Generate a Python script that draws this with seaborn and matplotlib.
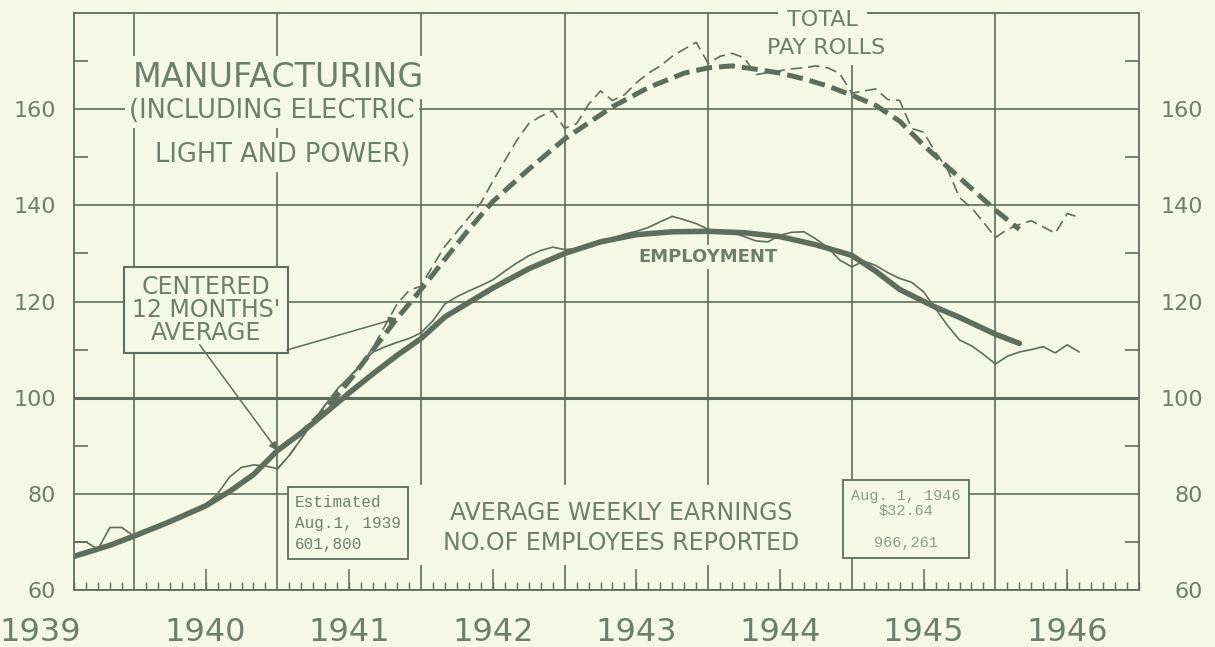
import numpy as np
import pandas as pd
import matplotlib
matplotlib.use("Agg")
import matplotlib.pyplot as plt
import matplotlib.ticker as mticker
import matplotlib.transforms as mtransforms
from matplotlib.patches import Rectangle
import seaborn as sns

# Eixo x em meses contados a partir de agosto de 1939 (mes 0 = ago/1939)
START_YEAR = 1939 + 7 / 12
END_YEAR = 1947

years = [1939, 1940, 1941, 1942, 1943, 1944, 1945, 1946]
y_ticks = [60, 80, 100, 120, 140, 160]
y_minor = [70, 90, 110, 130, 150, 170]

# Emprego - media centrada de 12 meses (linha grossa)
emp_avg_months = [0, 3, 5, 8, 11, 13, 15, 17, 19, 21, 23, 25, 27, 29, 31, 33, 35,
                  38, 41, 44, 47, 50, 53, 56, 59, 62, 65, 67, 69, 72, 74, 77, 79]
emp_avg_values = [67, 69.3, 71.2, 74.2, 77.5, 80.5, 84, 89, 92.7, 96.8, 101, 105,
                  108.8, 112.3, 116.8, 119.8, 122.8, 126.8, 130, 132.4, 133.9, 134.5,
                  134.6, 134.3, 133.5, 131.8, 129.6, 126.3, 122.5, 118.8, 116.7, 113.2, 111.3]

# Emprego - valores mensais (linha fina), ago/1939 a ago/1946
emp_months = list(range(0, 85))
emp_values = [70, 70, 68.5, 73, 73, 71.2, 72, 73, 74.3, 75.5, 76.5, 77.8,
              80, 83.5, 85.5, 86, 85.8, 85.2, 88, 91.5, 95, 98.5, 101.8, 104.3,
              107, 109.5, 110.6, 111.5, 112.3, 113.5, 116, 119.5, 121, 122.2, 123.3, 124.5,
              126.3, 128, 129.5, 130.6, 131.3, 130.8, 131, 131.8, 132.5, 133.2, 134, 134.6,
              135.4, 136.6, 137.7, 137, 136.2, 135, 134.6, 134.4, 133.5, 132.6, 132.4, 133.8,
              134.4, 134.5, 133, 131.2, 128.6, 127.2, 128.4, 127.5, 126, 124.8, 124, 122,
              118.5, 115, 112, 110.8, 109, 107, 108.6, 109.5, 110, 110.6, 109.3, 111, 109.5]

# Folha de pagamento total - media centrada de 12 meses (tracejado grosso)
pay_avg_months = [17, 19, 21, 23, 25, 27, 29, 31, 33, 35, 38, 41, 45, 48, 51, 53, 55,
                  57, 59, 61, 63, 65, 67, 69, 71, 73, 75, 77, 79]
pay_avg_values = [89, 92.7, 97.5, 103.5, 110, 116.5, 122.5, 128.8, 135, 140.8, 147.5,
                  153.8, 160.5, 164.5, 167.5, 168.6, 169, 168.3, 167.5, 166.3, 164.8,
                  162.9, 160.8, 157.5, 152.5, 148, 143.5, 139, 135]

# Folha de pagamento total - valores mensais (tracejado fino)
pay_months = list(range(17, 85))
pay_values = [85.2, 88, 91.5, 95, 98.5, 101.5, 104, 106.8, 110.5, 115, 119.5, 122.3, 123.2,
              127.5, 131.5, 134.5, 137.5, 140.5, 145, 149.3, 153.5, 157, 158.5, 159.7, 156, 157,
              161, 163.8, 161.8, 163, 165.5, 167.5, 169, 171, 172.5, 173.9, 169.5, 171, 171.6,
              170.7, 167.2, 167.6, 168, 168.4, 168.6, 169, 168.6, 167.4, 163.3, 163.8, 164.2,
              162, 161.8, 156, 155.2, 151, 147.5, 141.6, 139.5, 136.5, 133.3, 135, 136,
              136.8, 135.5, 134.2, 138.3, 137.5]

BG = "#F6F8E6"
LINE = "#5E6D5D"
TEXT = "#6D7E6B"
FAINT = "#8C9B89"


def month_to_year(months):
    return START_YEAR + np.asarray(months, dtype=float) / 12


sns.set_theme(style="white")
plt.rcParams["font.family"] = ["DejaVu Sans"]

fig = plt.figure(figsize=(12.15, 6.47), dpi=100, facecolor=BG)
ax = fig.add_axes([74 / 1215, 1 - 590 / 647, (1139 - 74) / 1215, (590 - 13) / 647])
ax.set_facecolor(BG)

df_pay = pd.DataFrame({"x": month_to_year(pay_months), "y": pay_values})
df_pay_avg = pd.DataFrame({"x": month_to_year(pay_avg_months), "y": pay_avg_values})
df_emp = pd.DataFrame({"x": month_to_year(emp_months), "y": emp_values})
df_emp_avg = pd.DataFrame({"x": month_to_year(emp_avg_months), "y": emp_avg_values})

sns.lineplot(data=df_pay, x="x", y="y", ax=ax, color=LINE, lw=1.2,
             linestyle=(0, (7, 3.5)), errorbar=None, zorder=3)
sns.lineplot(data=df_pay_avg, x="x", y="y", ax=ax, color=LINE, lw=3.6,
             linestyle=(0, (3.2, 1.4)), errorbar=None, zorder=4)
sns.lineplot(data=df_emp, x="x", y="y", ax=ax, color=LINE, lw=1.2,
             errorbar=None, zorder=5)
sns.lineplot(data=df_emp_avg, x="x", y="y", ax=ax, color=LINE, lw=4.0,
             errorbar=None, zorder=6, solid_capstyle="round")

ax.set_xlim(START_YEAR, END_YEAR)
ax.set_ylim(60, 180)
ax.set_xlabel("")
ax.set_ylabel("")

# grade: limites de ano na vertical, de 20 em 20 na horizontal
ax.xaxis.set_major_locator(mticker.FixedLocator(years[1:]))
ax.xaxis.set_minor_locator(mticker.FixedLocator(month_to_year(range(0, 90))))
ax.yaxis.set_major_locator(mticker.FixedLocator(y_ticks))
ax.yaxis.set_minor_locator(mticker.FixedLocator(y_minor))
ax.grid(True, which="major", color=LINE, lw=1.2)
ax.yaxis.get_gridlines()[y_ticks.index(100)].set_linewidth(2.2)

ax.tick_params(axis="x", which="major", length=0, labelbottom=False)
ax.tick_params(axis="x", which="minor", direction="in", length=6, width=1.0,
               color=LINE, bottom=True, top=False)
ax.tick_params(axis="y", which="major", length=0, labelsize=16, labelcolor=TEXT,
               pad=13, left=True, right=False)
ax.tick_params(axis="y", which="minor", direction="in", length=10, width=1.2,
               color=LINE, left=True, right=True)
for s in ax.spines.values():
    s.set_color(LINE)
    s.set_linewidth(1.3)

# tracos maiores no meio de cada ano
sec_x = ax.secondary_xaxis("bottom")
sec_x.set_xticks([y + 0.5 for y in years])
sec_x.tick_params(direction="in", length=15, width=1.1, color=LINE, labelbottom=False)
sec_x.spines["bottom"].set_visible(False)

# rotulos do lado direito
sec_y = ax.secondary_yaxis("right")
sec_y.set_yticks(y_ticks)
sec_y.tick_params(length=0, pad=46, labelsize=16, labelcolor=TEXT)
for lbl in sec_y.get_yticklabels():
    lbl.set_ha("right")
sec_y.spines["right"].set_visible(False)

# anos abaixo do eixo
trans = mtransforms.blended_transform_factory(ax.transData, ax.transAxes)
for yr in years[1:]:
    ax.text(yr + 0.5, -0.073, str(yr), transform=trans, ha="center", va="center",
            fontsize=23, color=TEXT, clip_on=False)
ax.text(-0.032, -0.073, str(years[0]), transform=ax.transAxes, ha="center",
        va="center", fontsize=23, color=TEXT, clip_on=False)

# titulos e rotulos
box_plain = dict(boxstyle="square,pad=0.15", fc=BG, ec="none")
ax.text(0.192, 0.889, "MANUFACTURING", transform=ax.transAxes, ha="center",
        va="center", fontsize=24, color=TEXT, bbox=box_plain, zorder=8)
ax.text(0.186, 0.830, "(INCLUDING ELECTRIC", transform=ax.transAxes, ha="center",
        va="center", fontsize=18.5, color=TEXT, bbox=box_plain, zorder=8)
ax.text(0.196, 0.754, "LIGHT AND POWER)", transform=ax.transAxes, ha="center",
        va="center", fontsize=18.5, color=TEXT, bbox=box_plain, zorder=8)
ax.text(0.703, 0.988, "TOTAL", transform=ax.transAxes, ha="center", va="center",
        fontsize=16, color=TEXT, clip_on=False,
        bbox=dict(boxstyle="square,pad=0.4", fc=BG, ec="none"), zorder=9)
ax.text(0.706, 0.939, "PAY ROLLS", transform=ax.transAxes, ha="center", va="center",
        fontsize=16, color=TEXT, bbox=dict(boxstyle="square,pad=0.3", fc=BG, ec="none"),
        zorder=9)
ax.text(0.595, 0.577, "EMPLOYMENT", transform=ax.transAxes, ha="center", va="center",
        fontsize=13, fontweight="bold", color=TEXT, bbox=box_plain, zorder=8)

# caixa da media centrada e setas
ax.text(0.124, 0.485, "CENTERED\n12 MONTHS'\nAVERAGE", transform=ax.transAxes,
        ha="center", va="center", multialignment="center", fontsize=17, color=TEXT,
        linespacing=0.95, zorder=9,
        bbox=dict(boxstyle="square,pad=0.35", fc=BG, ec=LINE, lw=1.5))
arrow = dict(arrowstyle="-|>", color=LINE, lw=1.1, mutation_scale=12,
             shrinkA=0, shrinkB=0)
i_emp = emp_avg_months.index(17)
ax.annotate("", xy=(month_to_year(emp_avg_months[i_emp]), emp_avg_values[i_emp]),
            xytext=(0.118, 0.425), textcoords="axes fraction", arrowprops=arrow, zorder=9)
i_pay = pay_avg_months.index(27)
ax.annotate("", xy=(month_to_year(pay_avg_months[i_pay]), pay_avg_values[i_pay]),
            xytext=(0.200, 0.416), textcoords="axes fraction", arrowprops=arrow, zorder=9)

# bloco inferior de texto
ax.add_patch(Rectangle((0.313, 0.043), 0.41, 0.139, transform=ax.transAxes,
                       fc=BG, ec="none", zorder=2.6))
ax.text(0.514, 0.107, "AVERAGE WEEKLY EARNINGS\nNO.OF EMPLOYEES REPORTED",
        transform=ax.transAxes, ha="center", va="center", multialignment="center",
        fontsize=17, color=TEXT, linespacing=1.3, zorder=8)
ax.text(0.2075, 0.116, "Estimated\nAug.1, 1939\n601,800", transform=ax.transAxes,
        ha="left", va="center", fontsize=11.5, family="Liberation Mono", color=TEXT,
        linespacing=1.5, zorder=9,
        bbox=dict(boxstyle="square,pad=0.45", fc=BG, ec=LINE, lw=1.3))
ax.text(0.781, 0.123, "Aug. 1, 1946\n\\$32.64\n\n966,261", transform=ax.transAxes,
        ha="center", va="center", multialignment="center", fontsize=11,
        family="Liberation Mono", color=FAINT, linespacing=1.15, zorder=9,
        bbox=dict(boxstyle="square,pad=0.55", fc=BG, ec=LINE, lw=1.3))

fig.savefig("out.png", dpi=100, facecolor=BG)
